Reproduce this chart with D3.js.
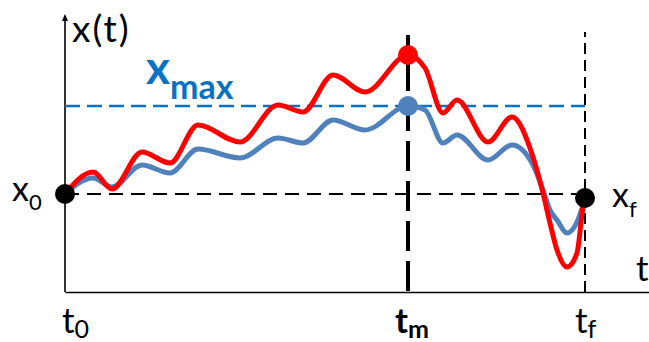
<!DOCTYPE html>
<html>
<head>
<meta charset="utf-8">
<script src="https://cdn.jsdelivr.net/npm/d3@7"></script>
<style>
  body { margin: 0; background: #fff; }
  svg { display: block; font-family: Lato, "Open Sans", sans-serif; }
</style>
</head>
<body>
<svg id="chart"></svg>
<script>
// time points (t0 = 0, tf = 52) and the two trajectories
let times = [0, 2.8, 4.7, 7.7, 10.5, 13.3, 17.5, 21.3, 23.8, 26.8, 30, 34.3, 36, 37.8, 39.2, 42.3, 44.7, 46.8, 47.8, 48.5, 49.2, 50.2, 51.2, 51.8, 52]
let redValues = [0, 2.2, 0.5, 4.2, 3.1, 6.9, 5.2, 8.9, 8.2, 11.9, 10.2, 13.9, 12.6, 8.1, 9.4, 5.2, 7.7, 3.7, 0.1, -2.9, -5.6, -7.3, -5.9, -1.3, -0.4]
let blueValues = [0, 1.6, 0.7, 2.9, 2.1, 4.5, 3.6, 5.6, 5.1, 7.4, 6.4, 8.8, 8.4, 5.1, 5.9, 3.4, 4.9, 2.9, 0.4, -1.6, -2.6, -3.9, -2.8, -1.1, -0.4]

let t0 = 0, tm = 34.3, tf = 52
let x0 = 0, xf = -0.4, xmax = 8.8, redMax = 13.9

let tickLabels = [
    { main: "t", sub: "0", t: t0, bold: false },
    { main: "t", sub: "m", t: tm, bold: true },
    { main: "t", sub: "f", t: tf, bold: false }
]

const width = 649, height = 342

let svg = d3.select("#chart")
    .attr("width", width)
    .attr("height", height)

let x = d3.scaleLinear().domain([0, 52]).range([65, 585])
let y = d3.scaleLinear().domain([-9.8, 18]).range([292, 14])

let red = "#ff0000", blue = "#4f81bd", xmaxColor = "#0a72c2"

// axes
let axisY = svg.append("g").attr("transform", `translate(${x(0)},0)`)
    .call(d3.axisLeft(y).tickValues([]).tickSizeOuter(0))
axisY.select(".domain").attr("stroke", "#000").attr("stroke-width", 1.6)
    .attr("d", `M0,${y(-9.8)}V${y(18) + 4}`)
svg.append("path")
    .attr("d", `M${x(0) - 3},${y(18) + 7}L${x(0)},${y(18)}L${x(0) + 3},${y(18) + 7}Z`)
    .attr("fill", "#000")

let axisX = svg.append("g").attr("transform", `translate(0,${y(-9.8)})`)
    .call(d3.axisBottom(d3.scaleLinear().domain([0, 1]).range([x(0), width])).tickValues([]).tickSizeOuter(0))
axisX.select(".domain").attr("stroke", "#000").attr("stroke-width", 1.6)

// reference lines
svg.append("line")
    .attr("x1", x(t0)).attr("x2", x(tf))
    .attr("y1", y(x0)).attr("y2", y(x0))
    .attr("stroke", "#000").attr("stroke-width", 2.2)
    .attr("stroke-dasharray", "14,8")

svg.append("line")
    .attr("x1", x(t0)).attr("x2", x(tf))
    .attr("y1", y(xmax)).attr("y2", y(xmax))
    .attr("stroke", xmaxColor).attr("stroke-width", 2.6)
    .attr("stroke-dasharray", "15,7")

svg.append("line")
    .attr("x1", x(tm)).attr("x2", x(tm))
    .attr("y1", y(-9.8) - 1).attr("y2", 35)
    .attr("stroke", "#000").attr("stroke-width", 4)
    .attr("stroke-dasharray", "30,10")

svg.append("line")
    .attr("x1", x(tf)).attr("x2", x(tf))
    .attr("y1", y(-9.8)).attr("y2", 32)
    .attr("stroke", "#000").attr("stroke-width", 2)
    .attr("stroke-dasharray", "11,6")

// trajectories
let line = d3.line().curve(d3.curveMonotoneX)
    .x(d => x(d[0]))
    .y(d => y(d[1]))

svg.append("path")
    .datum(d3.zip(times, blueValues))
    .attr("d", line)
    .attr("fill", "none")
    .attr("stroke", blue)
    .attr("stroke-width", 5)

svg.append("path")
    .datum(d3.zip(times, redValues))
    .attr("d", line)
    .attr("fill", "none")
    .attr("stroke", red)
    .attr("stroke-width", 5)

// dots
let dots = [
    { t: t0, v: x0, c: "#000" },
    { t: tf, v: xf, c: "#000" },
    { t: tm, v: redMax, c: red },
    { t: tm, v: xmax, c: blue }
]
svg.append("g").selectAll("circle")
    .data(dots)
    .enter()
    .append("circle")
    .attr("cx", d => x(d.t))
    .attr("cy", d => y(d.v))
    .attr("r", 10)
    .attr("fill", d => d.c)

// labels
let label = (px, py, main, sub, size, subSize, dy, opts) => {
    let txt = svg.append("text")
        .attr("x", px).attr("y", py)
        .attr("font-size", size)
        .attr("fill", opts && opts.fill || "#000")
        .attr("font-weight", opts && opts.bold ? "bold" : "normal")
    if (opts && opts.spacing) txt.attr("letter-spacing", opts.spacing)
    txt.append("tspan").text(main)
    if (sub) txt.append("tspan").attr("dy", dy).attr("font-size", subSize).text(sub)
    return txt
}

label(72, 42, "x(t)", null, 37, 0, 0, { spacing: 2 })
label(146, 84, "x", "max", 46, 34, 15, { bold: true, fill: xmaxColor })
label(12, 201, "x", "0", 34, 22, 9)
label(612, 207, "x", "f", 34, 22, 10)
label(636, 281, "t", null, 35)

let tickOffset = { "0": -3, "m": -13, "f": -10 }
tickLabels.forEach(d => {
    label(x(d.t) + tickOffset[d.sub], 333, d.main, d.sub, 35, 25, 5, { bold: d.bold })
})
</script>
</body>
</html>
